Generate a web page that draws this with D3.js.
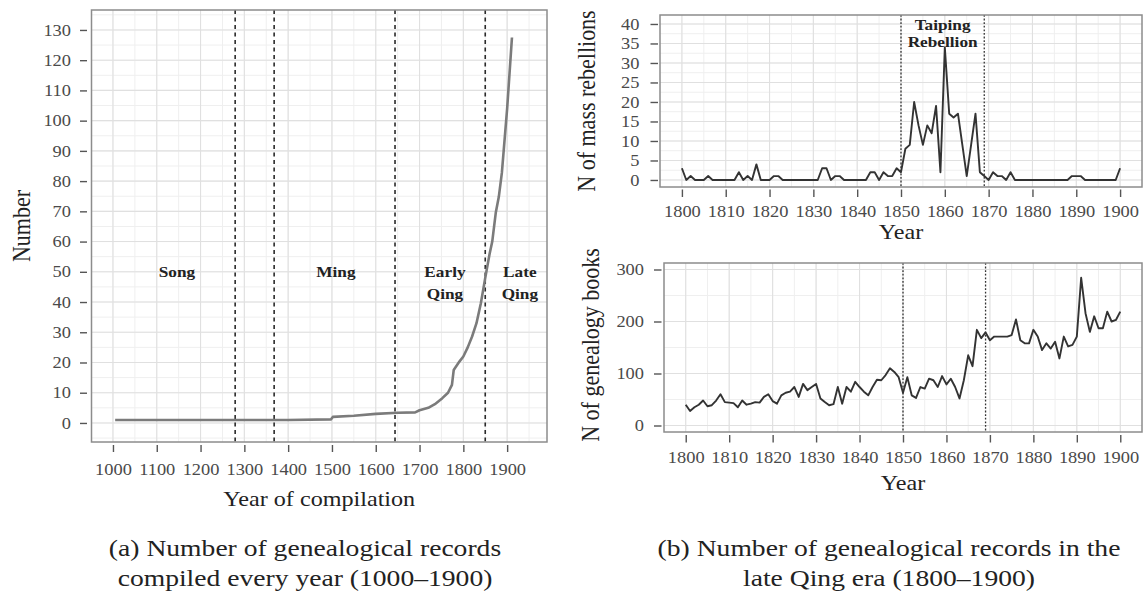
<!DOCTYPE html>
<html>
<head>
<meta charset="utf-8">
<script src="https://cdn.jsdelivr.net/npm/d3@7"></script>
<style>
  html, body { margin: 0; padding: 0; background: #fff; }
  svg { display: block; font-family: "Liberation Serif", "Times New Roman", serif; }
</style>
</head>
<body>
<svg id="chart" width="1143" height="601"></svg>
<script>
// ---------- (a) genealogical records compiled per year, 1000-1900 ----------
const compYears  = [1005, 1100, 1200, 1300, 1400, 1498, 1502, 1550, 1600, 1650, 1690, 1700, 1720, 1735,
                    1752, 1765, 1774, 1778, 1791, 1800, 1810, 1820, 1830, 1840, 1850, 1860, 1866, 1874,
                    1881, 1888, 1900, 1911];
const compCounts = [1, 1, 1, 1, 1, 1.2, 2, 2.4, 3, 3.4, 3.5, 4.2, 5, 6.2,
                    8.2, 10, 12.6, 17.5, 20.3, 22, 25, 28.6, 33, 39.6, 48, 56, 60, 69.5,
                    74.8, 82.8, 104, 127.5];
const eraBreaks     = [1279, 1368, 1644, 1850];
const eraNames      = [["Song"], ["Ming"], ["Early", "Qing"], ["Late", "Qing"]];
const eraLabelYears = [1146, 1509, 1758, 1929];
const eraLabelLevel = 50;
const compXTicks = [1000, 1100, 1200, 1300, 1400, 1500, 1600, 1700, 1800, 1900];
const compYTicks = [0, 10, 20, 30, 40, 50, 60, 70, 80, 90, 100, 110, 120, 130];

// ---------- (b) late Qing era, 1800-1900 ----------
const lateYears = d3.range(1800, 1901);
const rebellions = [
  3, 0, 1, 0, 0, 0, 1, 0, 0, 0,
  0, 0, 0, 2, 0, 1, 0, 4, 0, 0,
  0, 1, 1, 0, 0, 0, 0, 0, 0, 0,
  0, 0, 3, 3, 0, 1, 1, 0, 0, 0,
  0, 0, 0, 2, 2, 0, 2, 1, 1, 3,
  2, 8, 9, 20, 14, 9, 14, 12, 19, 2,
  34, 17, 16, 17, 9, 1, 9, 17, 2, 1,
  0, 2, 1, 1, 0, 2, 0, 0, 0, 0,
  0, 0, 0, 0, 0, 0, 0, 0, 0, 1,
  1, 1, 0, 0, 0, 0, 0, 0, 0, 0,
  3
];
const genealogyBooks = [
  40, 28, 35, 40, 48, 37, 39, 48, 60, 45,
  44, 43, 35, 48, 40, 42, 45, 44, 55, 60,
  47, 42, 58, 63, 65, 74, 55, 80, 68, 74,
  80, 52, 45, 39, 41, 74, 42, 74, 65, 84,
  74, 65, 58, 74, 88, 87, 97, 110, 103, 93,
  63, 93, 58, 53, 74, 71, 90, 87, 74, 95,
  79, 90, 74, 52, 87, 135, 114, 184, 168, 179,
  164, 171, 171, 171, 171, 174, 204, 164, 158, 158,
  184, 171, 145, 158, 148, 161, 129, 171, 152, 155,
  171, 284, 216, 180, 210, 187, 187, 219, 200, 203,
  219
];
const taipingSpan  = [1850, 1869];
const taipingLabel = ["Taiping", "Rebellion"];
const lateXTicks = [1800, 1810, 1820, 1830, 1840, 1850, 1860, 1870, 1880, 1890, 1900];
const rebYTicks  = [0, 5, 10, 15, 20, 25, 30, 35, 40];
const bookYTicks = [0, 100, 200, 300];

// ---------- drawing ----------
const SX = 1.15;               // horizontal stretch applied to all lettering
const svg = d3.select("#chart");
const TICK_COL = "#555";
const LABEL_COL = "#4a4a4a";

function stretchedText(parent, x, y, str, size, opts = {}) {
  return parent.append("text")
    .attr("transform", `translate(${x},${y}) scale(${SX},1)`)
    .attr("text-anchor", opts.anchor || "middle")
    .attr("dy", "0.35em")
    .attr("font-size", size)
    .attr("font-weight", opts.weight || "normal")
    .attr("fill", opts.fill || "#222")
    .text(str);
}

function verticalText(parent, x, y, str, size) {
  return parent.append("text")
    .attr("transform", `translate(${x},${y}) scale(${SX},1) rotate(-90)`)
    .attr("text-anchor", "middle")
    .attr("dy", "0.35em")
    .attr("font-size", size)
    .attr("fill", "#222")
    .text(str);
}

function panel(cfg) {
  const g = svg.append("g");
  const x = d3.scaleLinear().domain(cfg.xDomain).range([cfg.left, cfg.right]);
  const y = d3.scaleLinear().domain(cfg.yDomain).range([cfg.bottom, cfg.top]);
  const inX = v => v > cfg.xDomain[0] && v < cfg.xDomain[1];
  const inY = v => v > cfg.yDomain[0] && v < cfg.yDomain[1];

  // minor then major grid
  const grid = g.append("g");
  grid.selectAll(".vminor").data(cfg.xMinor.filter(inX)).join("line")
    .attr("x1", d => x(d)).attr("x2", d => x(d)).attr("y1", cfg.top).attr("y2", cfg.bottom)
    .attr("stroke", "#efefef").attr("stroke-width", 1);
  grid.selectAll(".hminor").data(cfg.yMinor.filter(inY)).join("line")
    .attr("y1", d => y(d)).attr("y2", d => y(d)).attr("x1", cfg.left).attr("x2", cfg.right)
    .attr("stroke", "#efefef").attr("stroke-width", 1);
  grid.selectAll(".vmajor").data(cfg.xTicks.filter(inX)).join("line")
    .attr("x1", d => x(d)).attr("x2", d => x(d)).attr("y1", cfg.top).attr("y2", cfg.bottom)
    .attr("stroke", "#e0e0e0").attr("stroke-width", 1.1);
  grid.selectAll(".hmajor").data(cfg.yTicks.filter(inY)).join("line")
    .attr("y1", d => y(d)).attr("y2", d => y(d)).attr("x1", cfg.left).attr("x2", cfg.right)
    .attr("stroke", "#e0e0e0").attr("stroke-width", 1.1);

  // axes, set slightly away from the panel border
  const ax = g.append("g")
    .attr("transform", `translate(0,${cfg.bottom + cfg.xGap})`)
    .call(d3.axisBottom(x).tickValues(cfg.xTicks).tickFormat(d3.format("d"))
      .tickSize(cfg.tickLen).tickSizeOuter(0).tickPadding(cfg.xPad));
  const ay = g.append("g")
    .attr("transform", `translate(${cfg.left - cfg.yGap},0)`)
    .call(d3.axisLeft(y).tickValues(cfg.yTicks).tickFormat(d3.format("d"))
      .tickSize(cfg.tickLen).tickSizeOuter(0).tickPadding(cfg.yPad));
  [ax, ay].forEach(a => {
    a.select(".domain").remove();
    a.selectAll(".tick line").attr("stroke", TICK_COL).attr("stroke-width", 1.4);
    a.selectAll(".tick text").attr("font-size", 16).attr("fill", LABEL_COL)
      .attr("font-family", "Liberation Serif, serif");
  });
  ax.selectAll(".tick text").attr("transform", `scale(${SX},1)`);
  ay.selectAll(".tick text")
    .attr("x", -(cfg.tickLen + cfg.yPad) / SX)
    .attr("transform", `scale(${SX},1)`);

  const plot = g.append("g");
  // panel border
  g.append("rect")
    .attr("x", cfg.left).attr("y", cfg.top)
    .attr("width", cfg.right - cfg.left).attr("height", cfg.bottom - cfg.top)
    .attr("fill", "none").attr("stroke", "#8c8c8c").attr("stroke-width", 1.5);
  return { g, plot, x, y, cfg };
}

// ----- panel (a) -----
const pa = panel({
  left: 91.5, right: 547, top: 10, bottom: 442,
  xDomain: [951, 1991], yDomain: [-6.3, 136.6],
  xTicks: compXTicks, yTicks: compYTicks,
  xMinor: d3.range(950, 2000, 50), yMinor: d3.range(-5, 140, 5),
  xGap: 3, yGap: 4.5, tickLen: 7, xPad: 12, yPad: 9
});
pa.plot.selectAll(".era").data(eraBreaks).join("line")
  .attr("x1", d => pa.x(d)).attr("x2", d => pa.x(d))
  .attr("y1", pa.cfg.top).attr("y2", pa.cfg.bottom)
  .attr("stroke", "#2a2a2a").attr("stroke-width", 1.6).attr("stroke-dasharray", "4,3.5");
const compSeries = compYears.map((yr, i) => [yr, compCounts[i]]);
pa.plot.append("path").datum(compSeries)
  .attr("fill", "none").attr("stroke", "#7b7b7b").attr("stroke-width", 2.6)
  .attr("stroke-linejoin", "round")
  .attr("d", d3.line().x(d => pa.x(d[0])).y(d => pa.y(d[1])));
eraNames.forEach((lines, i) => {
  lines.forEach((s, j) => {
    stretchedText(pa.plot, pa.x(eraLabelYears[i]), pa.y(eraLabelLevel) + j * 22, s, 15,
      { weight: "bold", fill: "#222" });
  });
});
stretchedText(svg, (pa.cfg.left + pa.cfg.right) / 2, 499, "Year of compilation", 21);
verticalText(svg, 21, 226, "Number", 22);

// ----- panel (b), top: mass rebellions -----
const pb = panel({
  left: 660, right: 1142, top: 15, bottom: 187,
  xDomain: [1795, 1905], yDomain: [-1.8, 42.3],
  xTicks: lateXTicks, yTicks: rebYTicks,
  xMinor: d3.range(1795, 1910, 5), yMinor: d3.range(-2.5, 45, 2.5),
  xGap: 2.5, yGap: 2, tickLen: 7.5, xPad: 8.5, yPad: 11
});
pb.plot.selectAll(".taiping").data(taipingSpan).join("line")
  .attr("x1", d => pb.x(d)).attr("x2", d => pb.x(d))
  .attr("y1", pb.cfg.top).attr("y2", pb.cfg.bottom)
  .attr("stroke", "#333").attr("stroke-width", 1.3).attr("stroke-dasharray", "1.8,1.8");
pb.plot.append("path").datum(lateYears.map((yr, i) => [yr, rebellions[i]]))
  .attr("fill", "none").attr("stroke", "#333").attr("stroke-width", 1.9)
  .attr("stroke-linejoin", "round")
  .attr("d", d3.line().x(d => pb.x(d[0])).y(d => pb.y(d[1])));
taipingLabel.forEach((s, j) => {
  stretchedText(pb.plot, pb.x((taipingSpan[0] + taipingSpan[1]) / 2), 25 + j * 17, s, 15,
    { weight: "bold", fill: "#222" });
});
stretchedText(svg, (pb.cfg.left + pb.cfg.right) / 2, 232, "Year", 21);
verticalText(svg, 586, 101, "N of mass rebellions", 22);

// ----- panel (b), bottom: genealogy books -----
const pc = panel({
  left: 664, right: 1142, top: 263, bottom: 432,
  xDomain: [1795, 1905], yDomain: [-12.5, 312.5],
  xTicks: lateXTicks, yTicks: bookYTicks,
  xMinor: d3.range(1795, 1910, 5), yMinor: d3.range(-50, 350, 50),
  xGap: 3, yGap: 2.5, tickLen: 7.5, xPad: 9, yPad: 10
});
pc.plot.selectAll(".taiping").data(taipingSpan).join("line")
  .attr("x1", d => pc.x(d)).attr("x2", d => pc.x(d))
  .attr("y1", pc.cfg.top).attr("y2", pc.cfg.bottom)
  .attr("stroke", "#333").attr("stroke-width", 1.3).attr("stroke-dasharray", "1.8,1.8");
pc.plot.append("path").datum(lateYears.map((yr, i) => [yr, genealogyBooks[i]]))
  .attr("fill", "none").attr("stroke", "#333").attr("stroke-width", 1.9)
  .attr("stroke-linejoin", "round")
  .attr("d", d3.line().x(d => pc.x(d[0])).y(d => pc.y(d[1])));
stretchedText(svg, (pc.cfg.left + pc.cfg.right) / 2, 483, "Year", 21);
verticalText(svg, 590, 345, "N of genealogy books", 22);

// ----- captions -----
stretchedText(svg, 305, 548, "(a) Number of genealogical records", 24);
stretchedText(svg, 305, 578, "compiled every year (1000–1900)", 24);
stretchedText(svg, 889, 548, "(b) Number of genealogical records in the", 24);
stretchedText(svg, 889, 578, "late Qing era (1800–1900)", 24);
</script>
</body>
</html>
